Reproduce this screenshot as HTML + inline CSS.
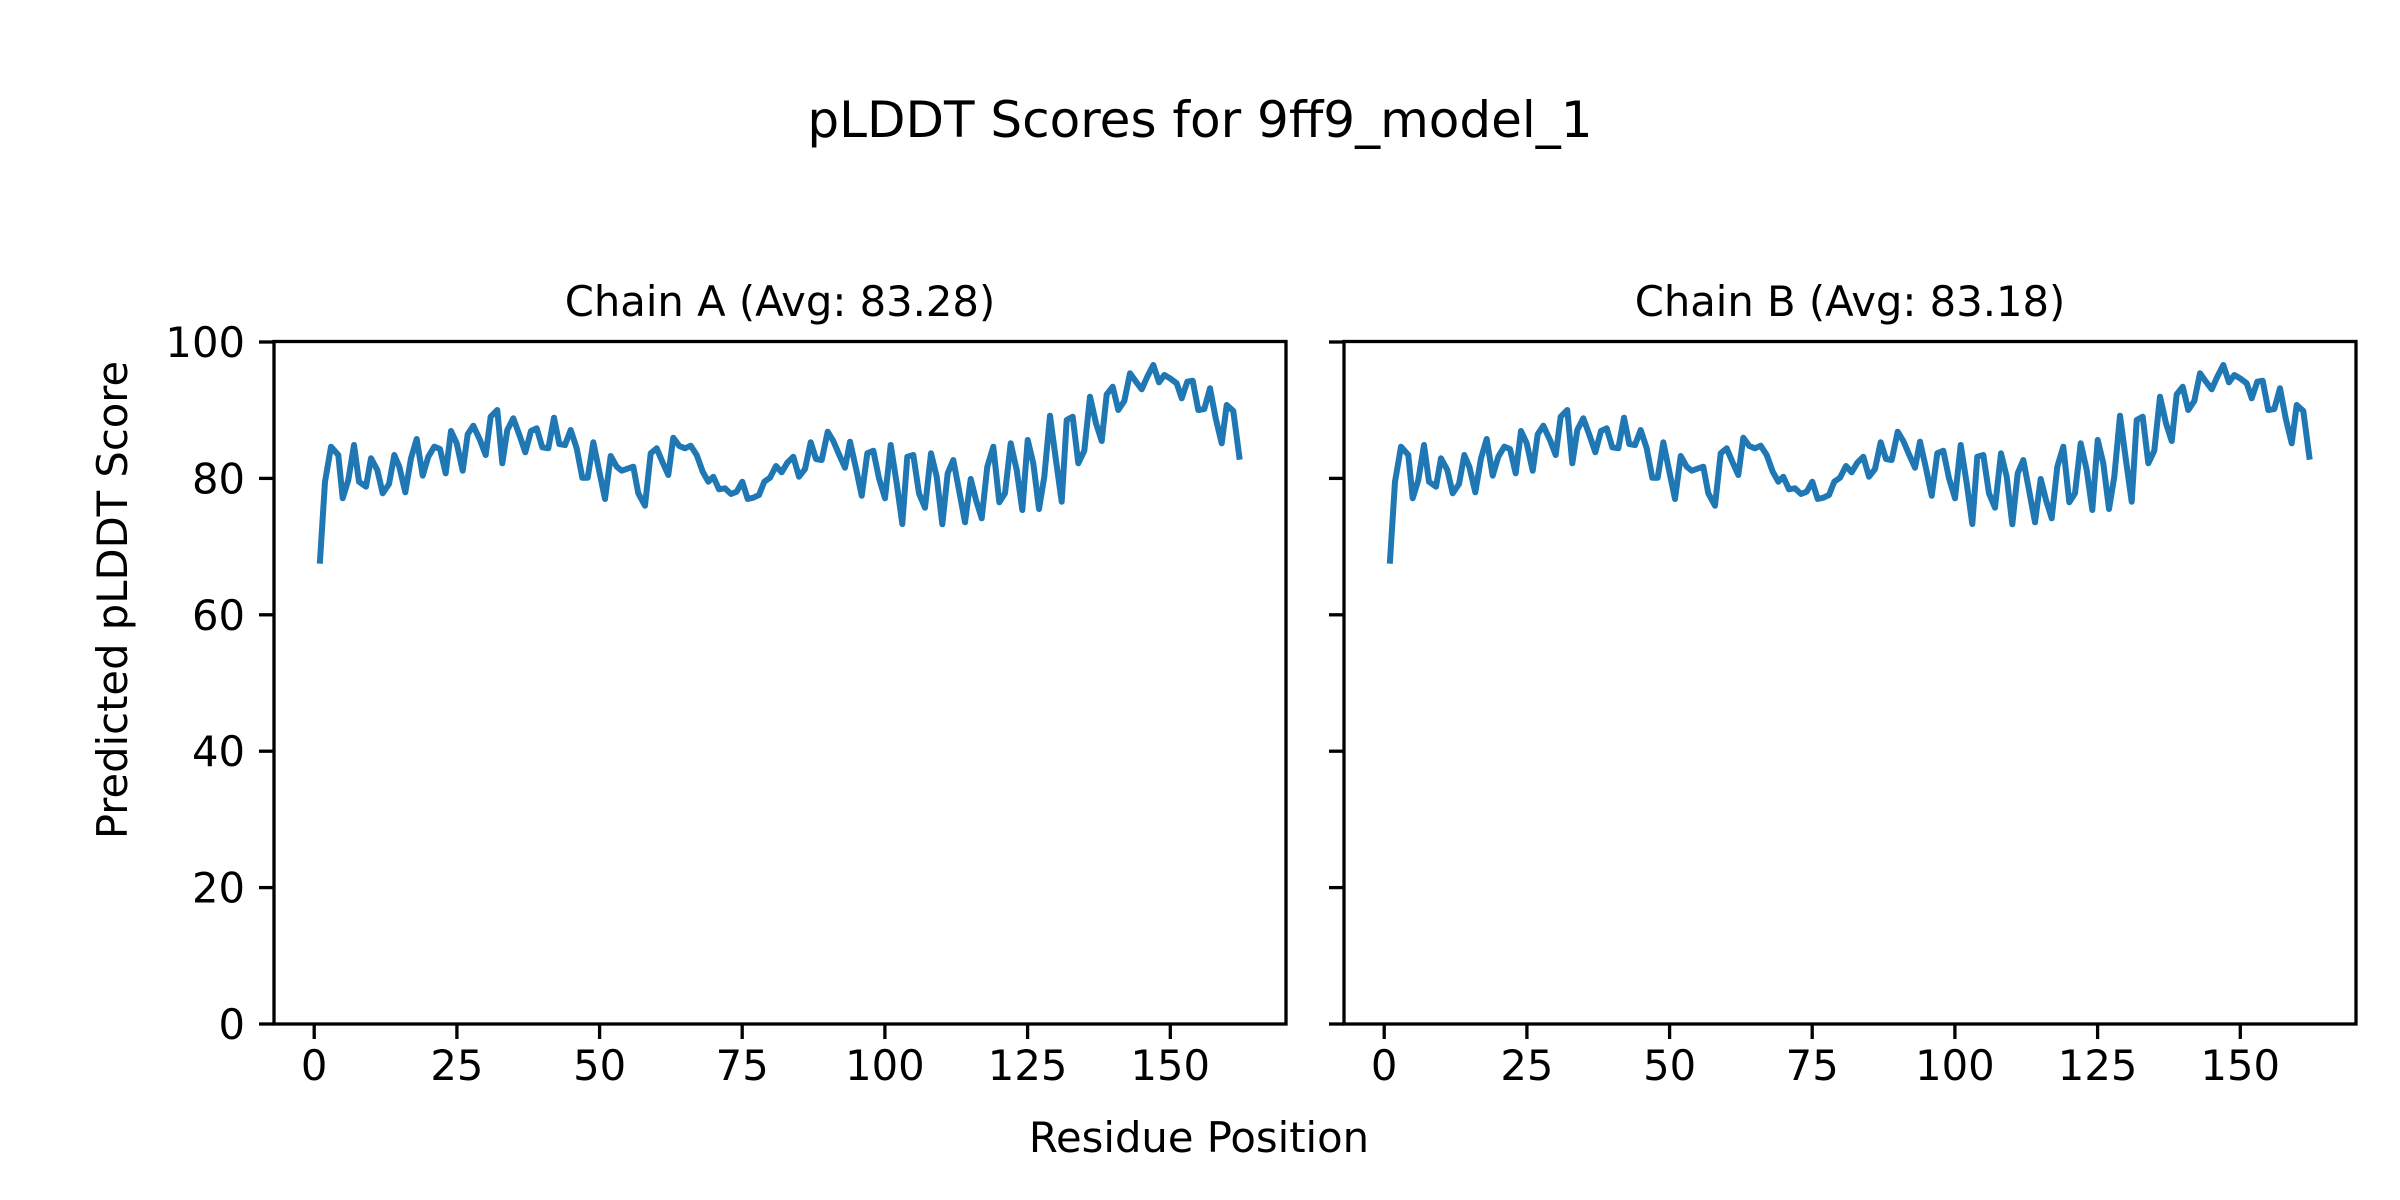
<!DOCTYPE html>
<html><head><meta charset="utf-8"><style>html,body{margin:0;padding:0;background:#fff}svg{display:block}</style></head><body>
<svg width="2400" height="1200" viewBox="0 0 2400 1200" xmlns="http://www.w3.org/2000/svg" font-family="'DejaVu Sans','Liberation Sans',sans-serif">
<rect width="2400" height="1200" fill="#fff"/>
<text x="1200" y="137" font-size="50" text-anchor="middle">pLDDT Scores for 9ff9_model_1</text>
<text x="780" y="316" font-size="41.7" text-anchor="middle">Chain A (Avg: 83.28)</text>
<text x="1850" y="316" font-size="41.7" text-anchor="middle">Chain B (Avg: 83.18)</text>
<defs>
<polyline id="s" fill="none" stroke="#1f77b4" stroke-width="6" stroke-linejoin="round" stroke-linecap="square" points="320,560.7 325,481.7 331,446.7 338.3,455 342.7,498.3 348.3,480 354,445 359,481.7 366,486.7 371,458.3 377.3,470 382.7,493.3 389,484 394.3,455 399.3,466.7 405.3,492.3 411,458.3 416.7,439 422.7,475.7 428.3,456.7 434.3,446.7 440,449 445.7,473.3 451,431 456.7,443.3 462.7,470.7 467.7,434.3 473.3,425.7 480,440 485.7,455 490.7,416.7 497.3,410 502.3,463.3 507.3,430 513.3,418.3 520,436.7 525.3,452.3 531,431 536.7,428.3 542.3,447.3 548.3,448.3 554,417.7 559.3,444 565,445 570.7,430 576.7,448.3 582.3,477.7 587.7,477.7 593.3,442.3 599,470 605,499 610.7,456 616.7,466.7 621.7,470.7 633.3,466.7 638.3,493.3 645,505.7 650.7,453.3 656.7,448.3 662.3,461.7 668.3,475 673.3,437.7 679.3,446 685,448.3 690.7,445.7 696.7,455 702.7,471.7 708.3,481.7 713.3,476.7 719,489.3 725,488.3 731,494 736.7,491.7 742.3,481.7 747.7,499 753.3,497.7 759,495 764.3,481.7 770,477.7 776,466 781.7,472.3 787.3,462.7 793.3,456.7 799,476.7 805,469 810.7,442.3 816,459 821.7,460 827.7,431.7 833.3,441 839,454.3 845,467.7 850,441.7 856,468.3 861.7,495.7 867.3,453.3 873.3,450.7 879,478.3 885,498.3 890.7,445 896.7,483.3 902.3,524 907.3,456.7 913.3,455 919,493.3 925,507.7 931,453.3 936.7,476.7 942.3,524.3 947.7,473.3 953.3,460 959,490 965,522.3 970.7,479 976,500 981.7,518.3 987.3,466.7 993.3,446.7 999.3,502.3 1005,493.3 1010.7,443.3 1016.7,470 1022.3,510 1027.7,440 1033.3,463.3 1039,509 1044.3,476.7 1050,415.7 1055.7,458.3 1061.7,501.7 1066.7,420 1072.7,416.7 1078.3,463.3 1084.3,450.7 1090,396.7 1096,423.3 1101.7,441 1106.7,394.3 1112.7,386.7 1118.3,410 1124.3,401 1130,373.3 1136,381.7 1141.7,389.3 1147.3,376.7 1153.3,365 1159,382.3 1164.3,375 1170,378.3 1176.7,383.3 1181.7,398.3 1187.3,381.7 1192.7,380.7 1198.3,410 1204.3,409 1210,388.3 1215.7,418.3 1221.7,443.3 1226.7,405 1233.3,411 1239.3,456.7"/>
</defs>
<use href="#s"/>
<use href="#s" transform="translate(1070,0)"/>
<g fill="none" stroke="#000" stroke-width="3.3">
<rect x="274" y="341.5" width="1012" height="682.5"/>
<rect x="1344" y="341.5" width="1012" height="682.5"/>
</g>
<g stroke="#000" stroke-width="3.3">
<line x1="259" x2="274" y1="1024" y2="1024"/><line x1="259" x2="274" y1="887.6" y2="887.6"/><line x1="259" x2="274" y1="751.2" y2="751.2"/><line x1="259" x2="274" y1="614.8" y2="614.8"/><line x1="259" x2="274" y1="478.4" y2="478.4"/><line x1="259" x2="274" y1="342" y2="342"/>
<line x1="1329" x2="1344" y1="1024" y2="1024"/><line x1="1329" x2="1344" y1="887.6" y2="887.6"/><line x1="1329" x2="1344" y1="751.2" y2="751.2"/><line x1="1329" x2="1344" y1="614.8" y2="614.8"/><line x1="1329" x2="1344" y1="478.4" y2="478.4"/><line x1="1329" x2="1344" y1="342" y2="342"/>
<line x1="314.2" x2="314.2" y1="1024" y2="1039"/><line x1="456.9" x2="456.9" y1="1024" y2="1039"/><line x1="599.6" x2="599.6" y1="1024" y2="1039"/><line x1="742.2" x2="742.2" y1="1024" y2="1039"/><line x1="884.9" x2="884.9" y1="1024" y2="1039"/><line x1="1027.6" x2="1027.6" y1="1024" y2="1039"/><line x1="1170.3" x2="1170.3" y1="1024" y2="1039"/>
<line x1="1384.2" x2="1384.2" y1="1024" y2="1039"/><line x1="1526.9" x2="1526.9" y1="1024" y2="1039"/><line x1="1669.6" x2="1669.6" y1="1024" y2="1039"/><line x1="1812.2" x2="1812.2" y1="1024" y2="1039"/><line x1="1954.9" x2="1954.9" y1="1024" y2="1039"/><line x1="2097.6" x2="2097.6" y1="1024" y2="1039"/><line x1="2240.3" x2="2240.3" y1="1024" y2="1039"/>
</g>
<g font-size="41.7" text-anchor="end">
<text x="245" y="1039">0</text><text x="245" y="902.6">20</text><text x="245" y="766.2">40</text><text x="245" y="629.8">60</text><text x="245" y="493.4">80</text><text x="245" y="357">100</text>
</g>
<g font-size="41.7" text-anchor="middle">
<text x="314.2" y="1080">0</text><text x="456.9" y="1080">25</text><text x="599.6" y="1080">50</text><text x="742.2" y="1080">75</text><text x="884.9" y="1080">100</text><text x="1027.6" y="1080">125</text><text x="1170.3" y="1080">150</text>
<text x="1384.2" y="1080">0</text><text x="1526.9" y="1080">25</text><text x="1669.6" y="1080">50</text><text x="1812.2" y="1080">75</text><text x="1954.9" y="1080">100</text><text x="2097.6" y="1080">125</text><text x="2240.3" y="1080">150</text>
</g>
<text x="1199" y="1152" font-size="41.7" text-anchor="middle">Residue Position</text>
<text transform="translate(127,600) rotate(-90)" font-size="41.7" text-anchor="middle">Predicted pLDDT Score</text>
</svg>
</body></html>
